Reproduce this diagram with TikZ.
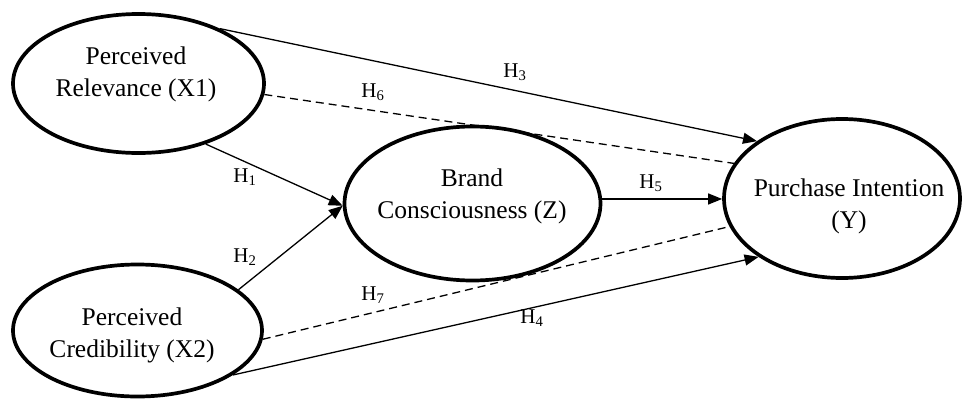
\documentclass[tikz,border=0pt]{standalone}
\usepackage{fontspec}
\setmainfont{Liberation Serif}
\usetikzlibrary{shapes.geometric,arrows.meta,backgrounds}
\begin{document}
\begin{tikzpicture}[x=1pt,y=-1pt,
  latent/.style={draw, ellipse, line width=3.7pt, fill=white, inner sep=0pt},
  ltext/.style={align=center, font=\fontsize{25.5}{32}\selectfont, inner sep=0pt},
  hyp/.style={font=\fontsize{21}{24}\selectfont, inner sep=0pt},
  causal/.style={line width=1.3pt, -{Triangle[length=14pt,width=11pt]}},
  indirect/.style={line width=1.3pt, dash pattern=on 8pt off 5pt}]
\useasboundingbox (0,0) rectangle (964,399);
% latent variables
\node[latent, minimum width=251pt, minimum height=139pt] (x1) at (138.5,83.5) {};
\node[latent, minimum width=249pt, minimum height=132pt] (x2) at (137.5,330.5) {};
\node[latent, minimum width=256pt, minimum height=154pt] (z) at (472.5,203.5) {};
\node[latent, minimum width=236pt, minimum height=159pt] (y) at (842,198.5) {};
% texts
\node[ltext] (x1t) at (136,74) {Perceived\\Relevance (X1)};
\node[ltext] (x2t) at (132,335) {Perceived\\Credibility (X2)};
\node[ltext] (zt) at (472,196) {Brand\\Consciousness (Z)};
\node[ltext] (yt) at (849,206) {Purchase Intention\\(Y)};
% paths
\begin{scope}[on background layer]
\draw[causal] (x1.34.8) -- (y.146.3);
\draw[indirect] (x1.-5.4) -- (y.162.9);
\draw[causal] (x1.-42.8) -- (z.181.8);
\draw[causal] (x2.22.9) -- (z.181.8);
\draw[causal] (z.2.2) -- (z.2.2 -| y.west);
\draw[indirect] (x2.-4) -- (y.-166.4);
\draw[causal] (x2.-25.8) -- (y.-145.9);
\end{scope}
% hypothesis labels
\node[hyp] (h3) at (515,72) {H\textsubscript{3}};
\node[hyp] (h6) at (373,92) {H\textsubscript{6}};
\node[hyp] (h1) at (245,177) {H\textsubscript{1}};
\node[hyp] (h2) at (245,257) {H\textsubscript{2}};
\node[hyp] (h5) at (651,183) {H\textsubscript{5}};
\node[hyp] (h7) at (373,295) {H\textsubscript{7}};
\node[hyp] (h4) at (532,318) {H\textsubscript{4}};
\end{tikzpicture}
\end{document}
